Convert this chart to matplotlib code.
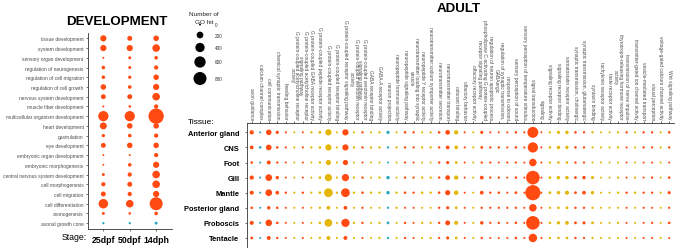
import matplotlib
matplotlib.use('Agg')
import matplotlib.pyplot as plt
import numpy as np
import textwrap

plt.rcParams['font.family'] = ['Liberation Sans', 'DejaVu Sans']

W, H, DPI = 676, 251, 100

RED = '#FF4B12'
YEL = '#E4B606'
TEAL = '#2AA8C2'
CAT_COLORS = {'BP': RED, 'MF': YEL, 'CC': TEAL}

# ---------------- DEVELOPMENT data ----------------
dev_terms = [
    'tissue development', 'system development', 'sensory organ development',
    'regulation of neurogenesis', 'regulation of cell migration',
    'regulation of cell growth', 'nervous system development',
    'muscle fiber development', 'multicellular organism development',
    'heart development', 'gastrulation', 'eye development',
    'embryonic organ development', 'embryonic morphogenesis',
    'central nervous system development', 'cell morphogenesis',
    'cell migration', 'cell differentiation', 'axonogenesis',
    'axonal growth cone',
]
dev_cats = ['BP'] * 19 + ['CC']
stages = ['25dpf', '50dpf', '14dph']
dev_25dpf = [170, 170, 2, 45, 45, 130, 100, 2, 490, 215, 34, 100, 1, 0, 25, 69, 100, 420, 25, 8]
dev_50dpf = [100, 170, 25, 25, 34, 45, 100, 15, 490, 130, 45, 130, 1, 45, 69, 100, 69, 260, 15, 8]
dev_14dph = [130, 260, 45, 69, 130, 170, 260, 69, 1120, 130, 69, 130, 69, 170, 260, 260, 170, 800, 45, 25]

# ---------------- ADULT data ----------------
adult_terms = [
    'axon guidance', 'calcium channel complex', 'cell communication',
    'chemical synaptic transmission', 'feeding behavior',
    'G protein-coupled acetylcholine receptor activity',
    'G protein-coupled acetylcholine receptor signaling pathway',
    'G protein-coupled GABA receptor activity',
    'G protein-coupled peptide receptor activity',
    'G protein-coupled receptor activity',
    'G protein-coupled receptor binding',
    'G protein-coupled receptor signaling pathway',
    'G protein-coupled serotonin receptor activity',
    'G protein-coupled serotonin receptor signaling pathway',
    'GABA receptor binding', 'GABA-A receptor activity',
    'neuron projection', 'neuropeptide hormone activity',
    'neuropeptide signaling pathway',
    'neurotransmitter loading into synaptic vesicle',
    'neuropeptide Y receptor activity',
    'neurotransmitter:sodium symporter activity',
    'neurotransmitter secretion', 'neurotransmitter transport',
    'odorant binding', 'olfactory behavior', 'olfactory receptor activity',
    'phospholipase C-activating G protein-coupled receptor signaling pathway',
    'regulation of neuron apoptotic process',
    'regulation of synaptic transmission, GABAergic',
    'response to odorant', 'sensory perception of sound',
    'sensory perception of temperature stimulus', 'signal transduction',
    'signaling', 'signaling receptor activity', 'signaling receptor binding',
    'somatostatin receptor activity',
    'synaptic transmission, cholinergic',
    'synaptic transmission, glutamatergic', 'syntaxin binding',
    'tachykinin receptor activity', 'taste receptor activity',
    'thyrotropin-releasing hormone receptor activity',
    'transmission of nerve impulse',
    'transmitter-gated ion channel activity',
    'vesicle-mediated transport', 'visual perception',
    'voltage-gated calcium channel activity', 'Wnt signaling pathway',
]
adult_cats = [
    'BP', 'CC', 'BP', 'BP', 'BP', 'MF', 'BP', 'MF', 'MF', 'MF',
    'MF', 'BP', 'MF', 'BP', 'MF', 'MF', 'CC', 'MF', 'BP', 'BP',
    'MF', 'MF', 'BP', 'BP', 'MF', 'BP', 'MF', 'BP', 'BP', 'BP',
    'BP', 'BP', 'BP', 'BP', 'BP', 'MF', 'MF', 'MF', 'BP', 'BP',
    'MF', 'MF', 'MF', 'MF', 'BP', 'MF', 'BP', 'BP', 'MF', 'BP',
]
tissues = ['Anterior gland', 'CNS', 'Foot', 'Gill', 'Mantle',
           'Posterior gland', 'Proboscis', 'Tentacle']

anterior_gland = [69, 3, 130, 34, 5, 3, 3, 10, 20, 170, 3, 170, 5, 10, 5, 10, 34, 5, 15, 10, 5, 8, 15, 90, 69,
                  5, 3, 30, 5, 3, 5, 15, 5, 560, 3, 10, 30, 40, 15, 10, 10, 3, 3, 8, 10, 5, 10, 10, 5, 15]
cns = [50, 15, 140, 15, 5, 5, 5, 10, 15, 170, 5, 170, 10, 10, 10, 10, 10, 8, 10, 8, 8, 10, 10, 50, 50,
       5, 5, 20, 10, 10, 5, 15, 5, 490, 3, 15, 40, 35, 15, 10, 5, 5, 5, 8, 5, 5, 10, 8, 5, 10]
foot = [15, 3, 60, 10, 3, 3, 3, 3, 10, 114, 3, 114, 3, 3, 3, 3, 3, 3, 8, 3, 3, 3, 10, 30, 20,
        3, 3, 10, 8, 3, 8, 8, 3, 255, 3, 10, 15, 15, 10, 8, 3, 3, 3, 3, 3, 3, 3, 3, 3, 3]
gill = [69, 3, 200, 40, 3, 3, 3, 3, 15, 235, 5, 235, 8, 10, 5, 10, 40, 3, 10, 8, 10, 10, 10, 90, 69,
        3, 3, 50, 10, 10, 3, 15, 3, 880, 3, 20, 40, 40, 20, 40, 30, 3, 3, 8, 3, 8, 3, 10, 3, 15]
mantle = [60, 3, 200, 50, 10, 5, 10, 5, 15, 350, 8, 350, 10, 15, 10, 10, 40, 10, 15, 10, 15, 10, 15, 110, 80,
          3, 3, 50, 10, 15, 5, 20, 3, 1100, 3, 20, 40, 60, 20, 50, 40, 3, 3, 10, 10, 10, 10, 10, 5, 30]
posterior_gland = [15, 3, 40, 15, 3, 3, 3, 3, 10, 50, 3, 50, 3, 8, 3, 3, 8, 8, 3, 3, 3, 3, 10, 30, 20,
                   3, 3, 10, 8, 8, 8, 10, 3, 260, 3, 10, 15, 20, 10, 10, 8, 3, 3, 3, 3, 3, 5, 3, 3, 8]
proboscis = [60, 3, 190, 15, 3, 3, 3, 3, 15, 270, 3, 310, 8, 10, 3, 8, 20, 3, 10, 3, 8, 8, 10, 100, 60,
             3, 3, 40, 8, 10, 3, 15, 3, 880, 3, 15, 35, 50, 20, 30, 20, 3, 3, 8, 3, 3, 3, 8, 3, 15]
tentacle = [20, 3, 60, 10, 3, 3, 3, 3, 10, 60, 3, 60, 3, 3, 3, 8, 10, 3, 8, 3, 3, 8, 8, 30, 20,
            3, 3, 10, 3, 3, 3, 15, 3, 330, 3, 10, 15, 15, 10, 8, 8, 3, 3, 3, 3, 3, 3, 3, 3, 3]
adult_rows = [anterior_gland, cns, foot, gill, mantle, posterior_gland, proboscis, tentacle]

legend_values = [0, 200, 400, 600, 800]


def area_pt2(v):
    d_px = np.sqrt(1.9 ** 2 + (13.0 ** 2 - 1.9 ** 2) * np.asarray(v, float) / 800.0)
    return (d_px * 72.0 / DPI) ** 2


def fx(x):
    return x / W


def fy(y):
    return 1 - y / H


fig = plt.figure(figsize=(W / DPI, H / DPI), dpi=DPI)
fig.patch.set_facecolor('white')

AXC = '#333333'

# ---------------- left panel ----------------
L0, R0, T0, B0 = 87.5, 172.0, 33.5, 230.0
axL = fig.add_axes([fx(L0), fy(B0), fx(R0) - fx(L0), fy(T0) - fy(B0)])
stage_vals = [dev_25dpf, dev_50dpf, dev_14dph]
for j, vals in enumerate(stage_vals):
    xs = np.full(len(dev_terms), j)
    ys = np.arange(len(dev_terms))
    cols = [CAT_COLORS[c] for c in dev_cats]
    axL.scatter(xs, ys, s=area_pt2(vals), c=cols, linewidths=0, zorder=3)
axL.set_xlim(-0.6, len(stages) - 0.4)
axL.set_ylim(len(dev_terms) - 0.4, -0.6)
axL.set_xticks(range(len(stages)))
axL.set_xticklabels(stages, fontsize=6.3, fontweight='bold', color='black')
axL.set_yticks(range(len(dev_terms)))
axL.set_yticklabels(dev_terms, fontsize=3.5, color='#4D4D4D')
axL.tick_params(axis='both', length=1.6, width=0.5, color=AXC, pad=1.2)
axL.tick_params(axis='x', pad=2.5)
for sp in ['top', 'right']:
    axL.spines[sp].set_visible(False)
for sp in ['left', 'bottom']:
    axL.spines[sp].set_color(AXC)
    axL.spines[sp].set_linewidth(0.6)
axL.set_facecolor('none')
fig.text(fx(117), fy(22), 'DEVELOPMENT', fontsize=9.6, fontweight='bold',
         ha='center', va='center', color='black')
fig.text(fx(62), fy(238), 'Stage:', fontsize=6.3, ha='left', va='center', color='black')

# ---------------- legend ----------------
fig.text(fx(204), fy(15), 'Number of', fontsize=4.6, ha='center', va='center', color='#222222')
fig.text(fx(204), fy(23), 'GO hit', fontsize=4.6, ha='center', va='center', color='#222222')
leg_y = [25.5, 36, 48.5, 63, 79.5]
axLeg = fig.add_axes([0, 0, 1, 1])
axLeg.set_xlim(0, W)
axLeg.set_ylim(H, 0)
axLeg.axis('off')
axLeg.scatter([200] * len(legend_values), leg_y, s=area_pt2(legend_values), c='black', linewidths=0)
for v, y in zip(legend_values, leg_y):
    axLeg.text(215, y, str(v), fontsize=3.4, ha='left', va='center', color='#333333')

# ---------------- right panel ----------------
L1, R1, T1, B1 = 246.6, 674.3, 124.3, 248.0
axR = fig.add_axes([fx(L1), fy(B1), fx(R1) - fx(L1), fy(T1) - fy(B1)])
ncol = len(adult_terms)
for i, vals in enumerate(adult_rows):
    xs = np.arange(ncol)
    ys = np.full(ncol, i)
    cols = [CAT_COLORS[c] for c in adult_cats]
    axR.scatter(xs, ys, s=area_pt2(vals), c=cols, linewidths=0, zorder=3)
axR.set_xlim(-0.6, ncol - 0.4)
axR.set_ylim(len(tissues) - 0.4, -0.6)
axR.xaxis.tick_top()
axR.set_xticks(range(ncol))
wrapped = [textwrap.fill(t, 44) for t in adult_terms]
axR.set_xticklabels(wrapped, fontsize=3.5, color='#4D4D4D', rotation=-90,
                    linespacing=1.0)
axR.set_yticks(range(len(tissues)))
axR.set_yticklabels(tissues, fontsize=5.4, fontweight='bold', color='black')
axR.tick_params(axis='both', length=1.6, width=0.5, color=AXC, pad=1.5)
axR.tick_params(axis='y', pad=3.5)
for sp in ['bottom', 'right']:
    axR.spines[sp].set_visible(False)
for sp in ['left', 'top']:
    axR.spines[sp].set_color(AXC)
    axR.spines[sp].set_linewidth(0.6)
axR.set_facecolor('none')
fig.text(fx(458.5), fy(9), 'ADULT', fontsize=9.6, fontweight='bold',
         ha='center', va='center', color='black',
         bbox=dict(facecolor='white', edgecolor='none', pad=0.5))
fig.text(fx(188), fy(123), 'Tissue:', fontsize=6.0, ha='left', va='center', color='black')

fig.savefig('out.png', dpi=DPI, facecolor='white')
